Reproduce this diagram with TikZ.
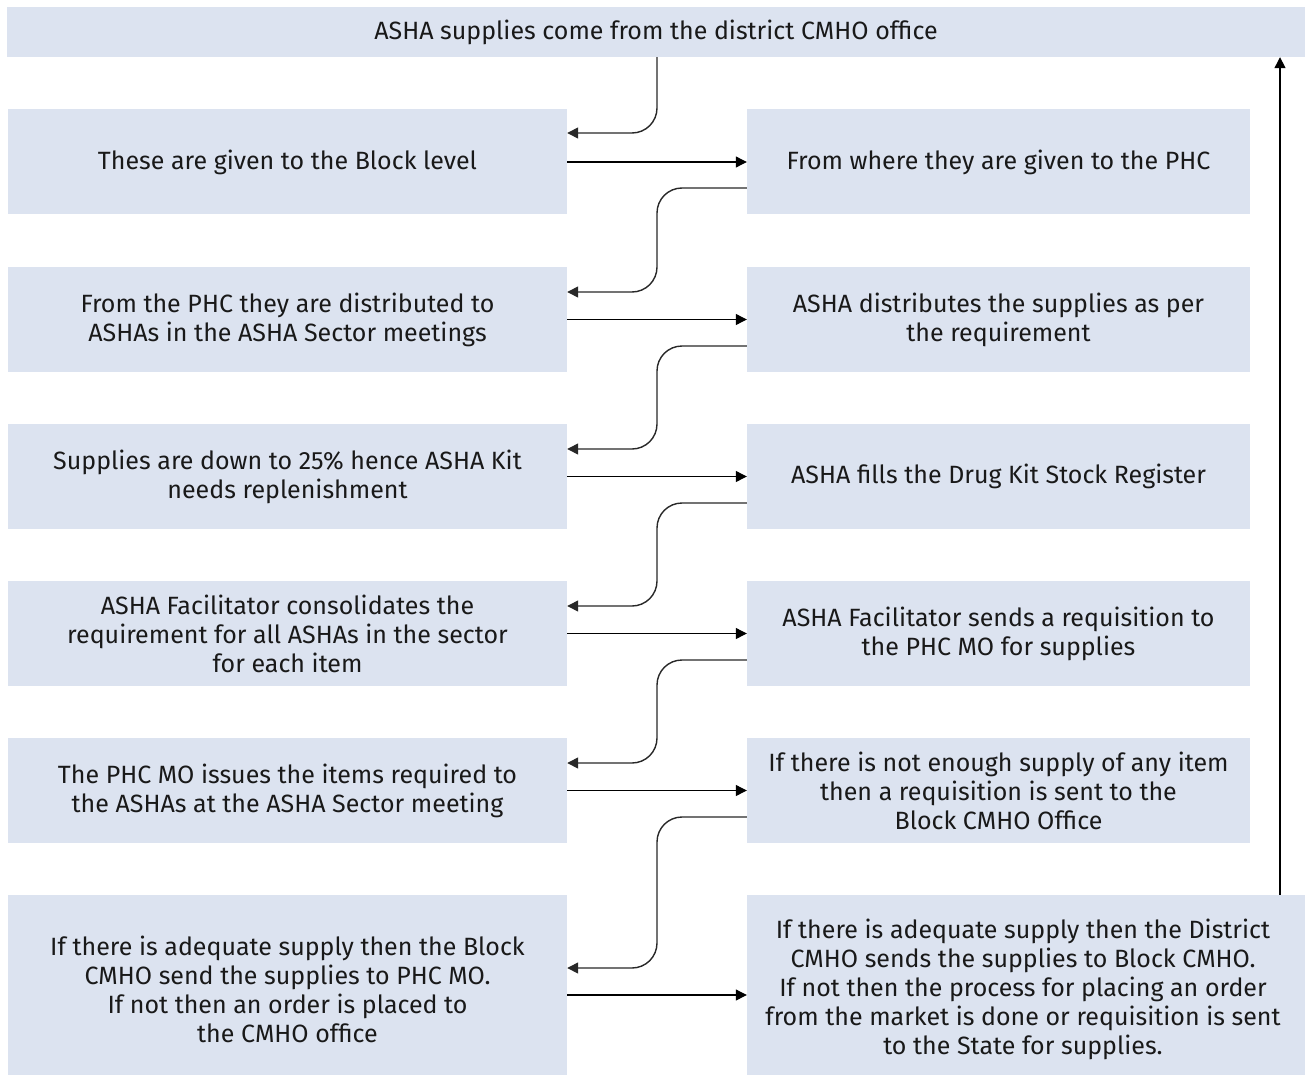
\documentclass[tikz,border=0pt]{standalone}
\usepackage{fontspec}
\setmainfont{Fira Sans}
\usetikzlibrary{arrows.meta,calc}
\definecolor{boxfill}{RGB}{220,227,240}
\definecolor{conngray}{RGB}{40,40,40}
\begin{document}
\begin{tikzpicture}[x=1pt,y=-1pt,
  box/.style={fill=boxfill, draw=none, inner sep=0pt, align=center,
    font=\fontsize{25}{29}\selectfont, text=black!90},
  lbox/.style={box, minimum width=559pt, minimum height=105pt},
  rbox/.style={box, minimum width=503pt, minimum height=105pt},
  harrow/.style={line width=1.1pt, black, -{Triangle[length=11pt,width=11pt]}},
  sconn/.style={line width=1.4pt, conngray, rounded corners=25pt, -{Triangle[length=11pt,width=11pt]}},
  uarrow/.style={line width=1.4pt, black, -{Triangle[length=11pt,width=11pt]}}
]
\useasboundingbox (0,0) rectangle (1305,1075);

\node[box, minimum width=1298pt, minimum height=50pt] (T) at (656,32) {ASHA supplies come from the district CMHO office};

\node[lbox] (L1) at (287.5,162) {These are given to the Block level};
\node[rbox] (R1) at (998.5,162) {From where they are given to the PHC};

\node[lbox] (L2) at (287.5,319.5) {From the PHC they are distributed to\\ASHAs in the ASHA Sector meetings};
\node[rbox] (R2) at (998.5,319.5) {ASHA distributes the supplies as per\\the requirement};

\node[lbox] (L3) at (287.5,476.5) {Supplies are down to 25\% hence ASHA Kit\\needs replenishment};
\node[rbox] (R3) at (998.5,476.5) {ASHA fills the Drug Kit Stock Register};

\node[lbox] (L4) at (287.5,633.5) {ASHA Facilitator consolidates the\\requirement for all ASHAs in the sector\\for each item};
\node[rbox] (R4) at (998.5,633.5) {ASHA Facilitator sends a requisition to\\the PHC MO for supplies};

\node[lbox] (L5) at (287.5,790.5) {The PHC MO issues the items required to\\the ASHAs at the ASHA Sector meeting};
\node[rbox] (R5) at (998.5,790.5) {If there is not enough supply of any item\\then a requisition is sent to the\\Block CMHO Office};

\node[lbox, minimum height=180pt] (L6) at (287.5,985) {};
\node[box, minimum width=558pt, minimum height=180pt] (R6) at (1026,985) {};
\node[box, fill=none] (L6t) at (287.5,989) {If there is adequate supply then the Block\\CMHO send the supplies to PHC MO.\\If not then an order is placed to\\the CMHO office};
\node[box, fill=none] (R6t) at (1023,989) {If there is adequate supply then the District\\CMHO sends the supplies to Block CMHO.\\If not then the process for placing an order\\from the market is done or requisition is sent\\to the State for supplies.};

% top bar down to first left box
\draw[sconn] (T.south -| 657,0) -- (657,133) -- (L1.east |- 0,133);

% horizontal arrows
\draw[harrow] (L1.east) -- (R1.west);
\draw[harrow] (L2.east) -- (R2.west);
\draw[harrow] (L3.east) -- (R3.west);
\draw[harrow] (L4.east) -- (R4.west);
\draw[harrow] (L5.east) -- (R5.west);
\draw[harrow] (L6.east |- 0,995) -- (R6.west |- 0,995);

% back connectors
\draw[sconn] (R1.west |- 0,188) -- (657,188) -- (657,292) -- (L2.east |- 0,292);
\draw[sconn] (R2.west |- 0,346) -- (657,346) -- (657,449) -- (L3.east |- 0,449);
\draw[sconn] (R3.west |- 0,503) -- (657,503) -- (657,606) -- (L4.east |- 0,606);
\draw[sconn] (R4.west |- 0,660) -- (657,660) -- (657,763) -- (L5.east |- 0,763);
\draw[sconn] (R5.west |- 0,817) -- (657,817) -- (657,968) -- (L6.east |- 0,968);

% vertical return arrow
\draw[uarrow] (R6.north -| 1280,0) -- (T.south -| 1280,0);
\end{tikzpicture}
\end{document}
